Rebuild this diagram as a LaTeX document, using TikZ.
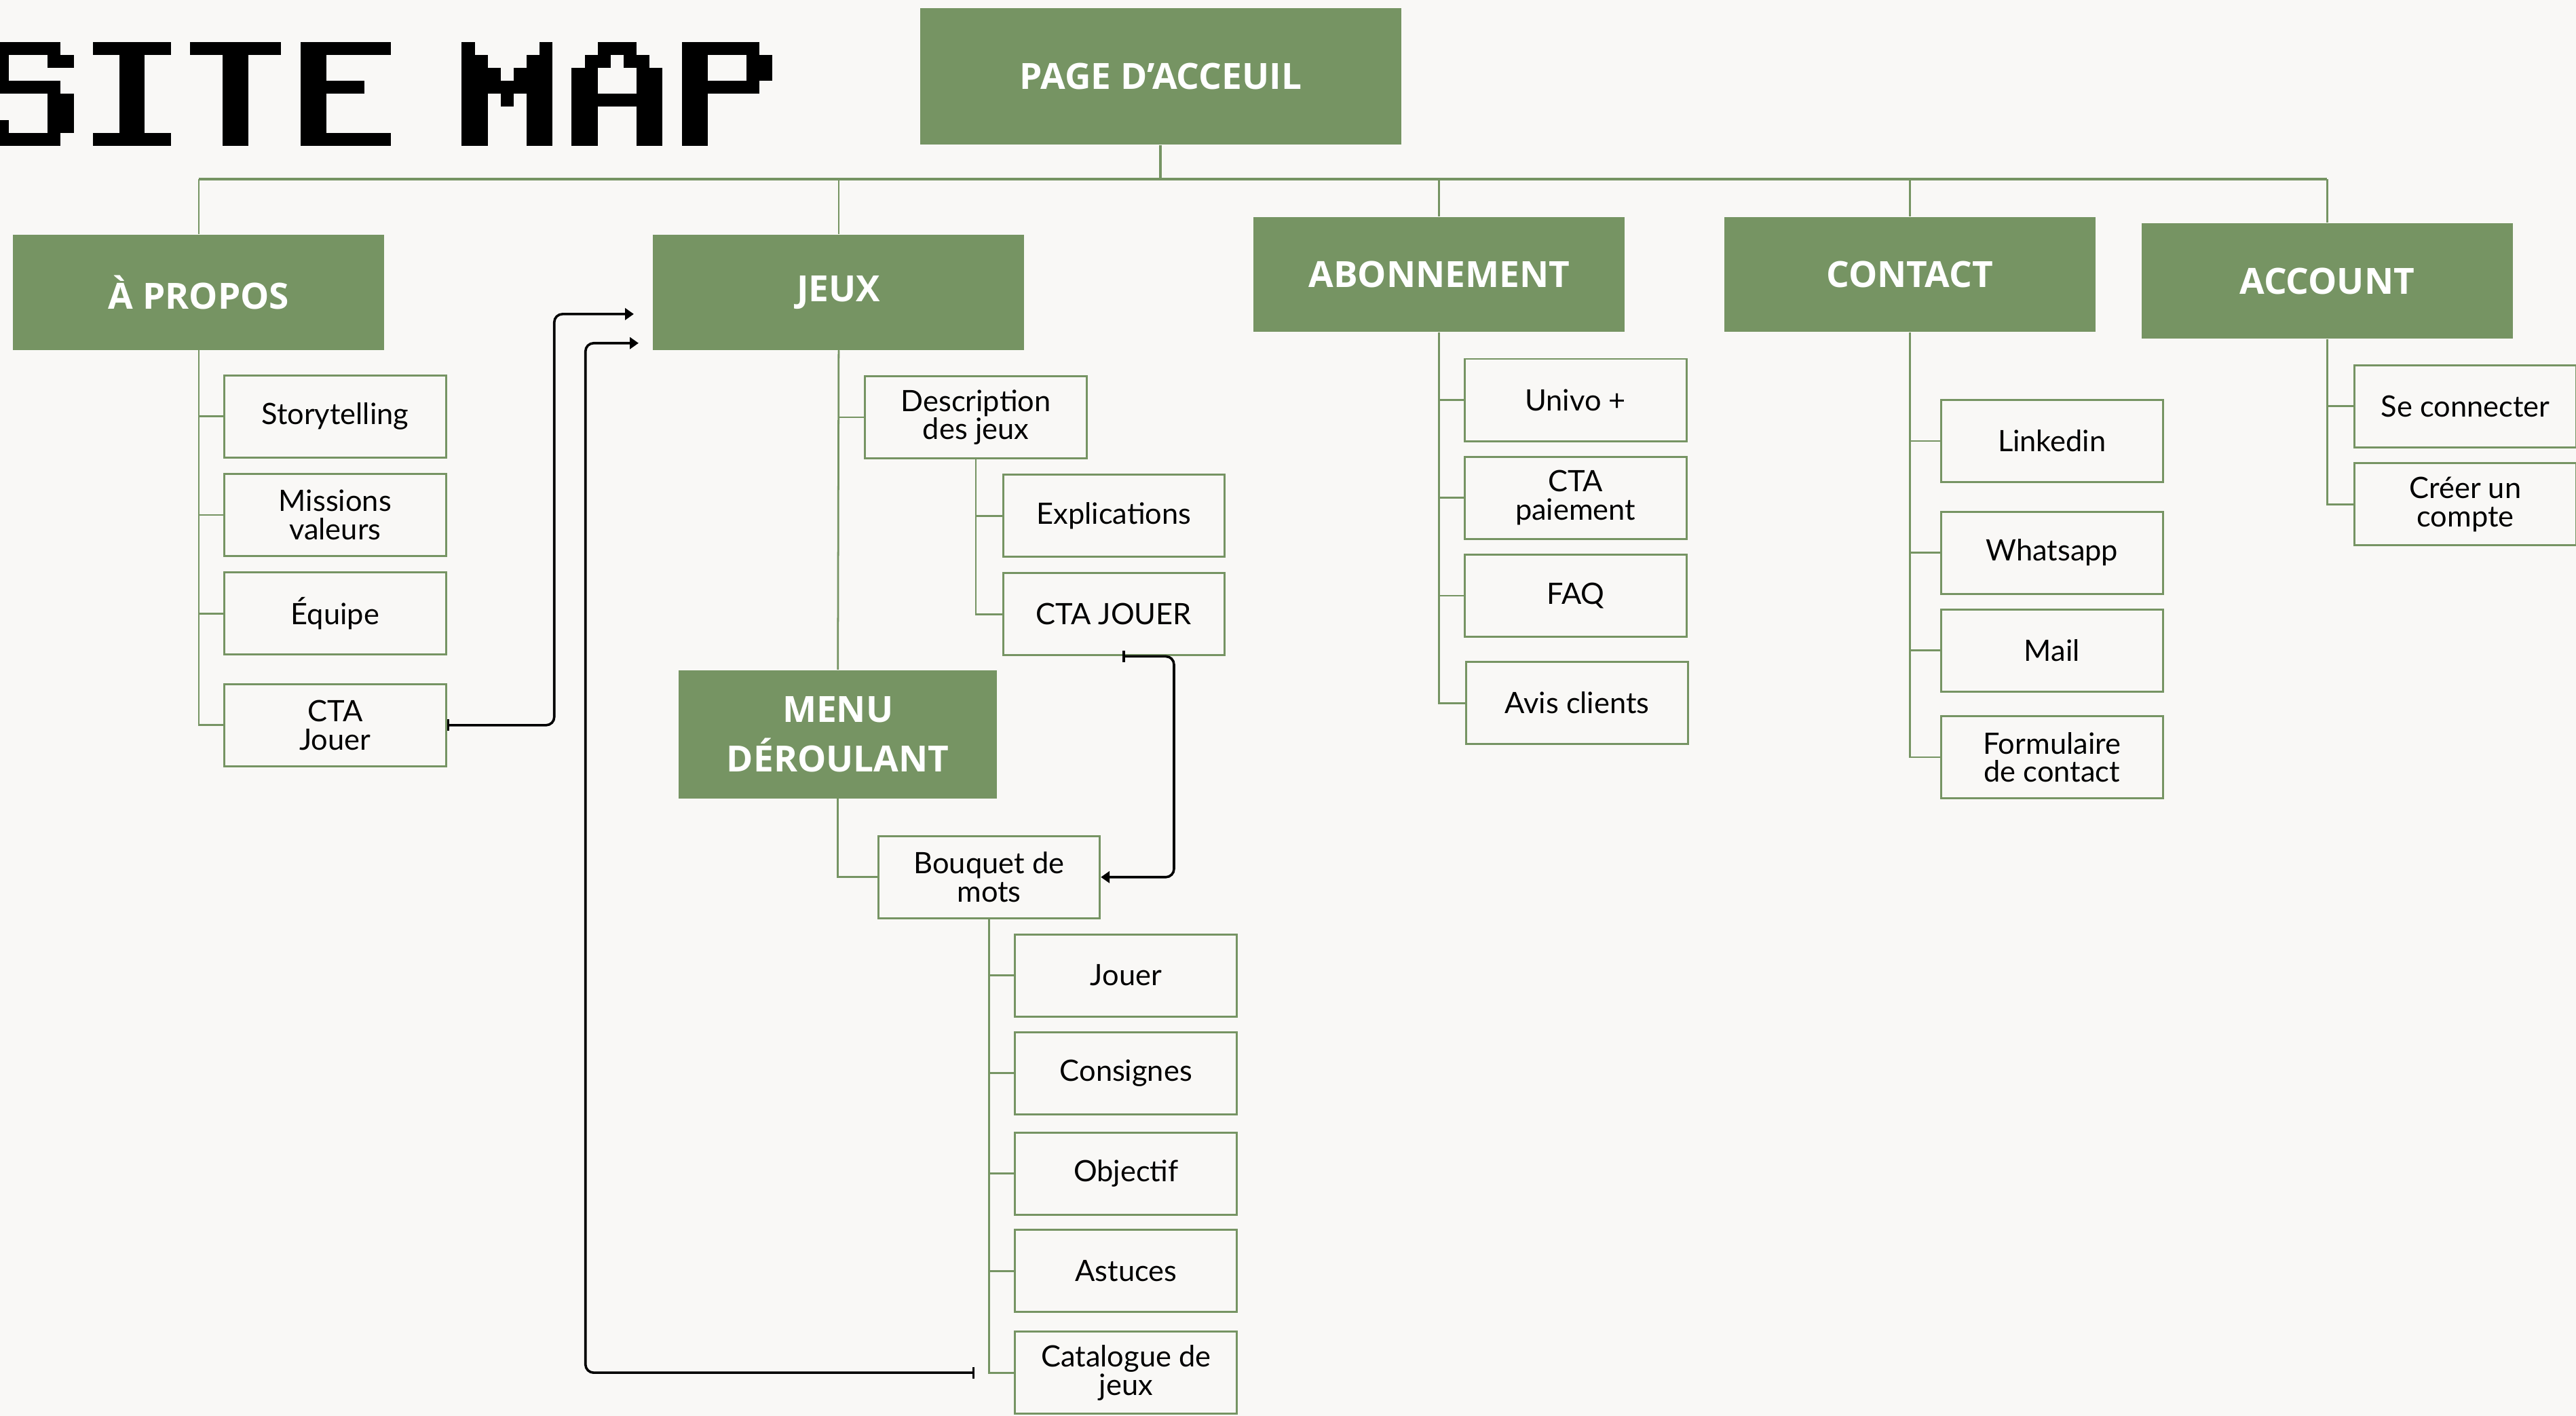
\documentclass[tikz,border=0pt]{standalone}
\usepackage{fontspec}
\setmainfont{Lato}
\newfontfamily\headfont{Open Sans}
\usetikzlibrary{arrows.meta,calc}
\definecolor{sage}{HTML}{769463}
\definecolor{bgc}{HTML}{F9F8F6}
\begin{document}
\begin{tikzpicture}[x=0.02cm, y=-0.02cm,
  hdr/.style={fill=sage, text=white, font=\headfont\bfseries\fontsize{12.5}{17}\selectfont, inner sep=0, align=center, minimum width=4.52cm, minimum height=1.4cm},
  cbox/.style={draw=sage, line width=0.7pt, fill=bgc, minimum width=2.70cm, minimum height=1.0cm, inner sep=0, align=center, font=\fontsize{10.2}{9.8}\selectfont},
  tree/.style={draw=sage, line width=0.65pt},
  link/.style={draw=black, line width=0.85pt, rounded corners=0.1cm, {Bar[width=4pt]}-{Triangle[length=3pt,width=4pt]}}]
\fill[bgc] (0,0) rectangle (1568,862);
\useasboundingbox (0,0) rectangle (1568,862);

% title in pixel letters
\begin{scope}[shift={(0,25.5)}, x=0.006323cm, y=-0.1582cm]
 % S
 \fill (-33,0) rectangle (117,1);
 \fill (-33,1) rectangle (17,3);
 \fill (92,1) rectangle (142,2);
 \fill (-33,3) rectangle (117,4);
 \fill (92,4) rectangle (142,7);
 \fill (-33,6) rectangle (17,7);
 \fill (-33,7) rectangle (117,8);
 % I
 \fill (179,0) rectangle (329,1);
 \fill (230,1) rectangle (279,7);
 \fill (179,7) rectangle (329,8);
 % T
 \fill (366,0) rectangle (541,1);
 \fill (429,1) rectangle (479,8);
 % E
 \fill (579,0) rectangle (753,1);
 \fill (579,1) rectangle (629,7);
 \fill (629,3) rectangle (703,4);
 \fill (579,7) rectangle (753,8);
 % M
 \fill (890,0) rectangle (915,1);
 \fill (1040,0) rectangle (1065,1);
 \fill (890,1) rectangle (940,8);
 \fill (1015,1) rectangle (1065,8);
 \fill (940,2) rectangle (965,4);
 \fill (990,2) rectangle (1015,4);
 \fill (965,3) rectangle (990,5);
 % A
 \fill (1152,0) rectangle (1227,1);
 \fill (1127,1) rectangle (1177,2);
 \fill (1202,1) rectangle (1252,2);
 \fill (1102,2) rectangle (1152,8);
 \fill (1227,2) rectangle (1277,8);
 \fill (1152,4) rectangle (1227,5);
 % P
 \fill (1314,0) rectangle (1464,1);
 \fill (1314,1) rectangle (1364,8);
 \fill (1439,1) rectangle (1489,3);
 \fill (1364,3) rectangle (1464,4);
\end{scope}

% headers
\node[hdr, minimum width=5.86cm, minimum height=1.66cm] (page) at (706.5,46.5) {PAGE D’ACCEUIL};
\node[hdr] (apropos) at (121,178) {À PROPOS};
\node[hdr] (jeux) at (510.5,178) {JEUX};
\node[hdr] (abo) at (876,167) {ABONNEMENT};
\node[hdr] (contact) at (1162.5,167) {CONTACT};
\node[hdr] (account) at (1416.5,171) {ACCOUNT};
\node[hdr, minimum width=3.88cm, minimum height=1.56cm] (menu) at (510,447) {MENU\\DÉROULANT};

% children
\node[cbox] (story) at (204,253.5) {Storytelling};
\node[cbox] (missions) at (204,313.5) {Missions\\valeurs};
\node[cbox] (equipe) at (204,373.5) {Équipe};
\node[cbox] (ctaj) at (204,441.5) {CTA\\Jouer};

\node[cbox] (desc) at (594,254) {Description\\des jeux};
\node[cbox] (expl) at (678,314) {Explications};
\node[cbox] (ctajeux) at (678,374) {CTA JOUER};
\node[cbox] (bouquet) at (602,534) {Bouquet de\\mots};
\node[cbox] (jouer) at (685.4,593.8) {Jouer};
\node[cbox] (consignes) at (685.4,653.4) {Consignes};
\node[cbox] (objectif) at (685.4,714.5) {Objectif};
\node[cbox] (astuces) at (685.4,773.8) {Astuces};
\node[cbox] (catalogue) at (685.4,835.7) {Catalogue de\\jeux};

\node[cbox] (univo) at (959,243.5) {Univo +};
\node[cbox] (ctap) at (959,303) {CTA\\paiement};
\node[cbox] (faq) at (959,362.7) {FAQ};
\node[cbox] (avis) at (960,428) {Avis clients};

\node[cbox] (linkedin) at (1249,268.5) {Linkedin};
\node[cbox] (whatsapp) at (1249,336.5) {Whatsapp};
\node[cbox] (mail) at (1249,396) {Mail};
\node[cbox] (form) at (1249,461) {Formulaire\\de contact};

\node[cbox] (seco) at (1500.6,247.3) {Se connecter};
\node[cbox] (creer) at (1500.6,307) {Créer un\\compte};

% bus
\coordinate (bus) at (0,109);
\draw[tree, line width=0.9pt] (page.south) -- (page.south |- bus);
\draw[tree, line width=0.9pt] (apropos.north |- bus) -- (account.north |- bus);
\foreach \n in {apropos,jeux,abo,contact,account}
  \draw[tree] (\n.north |- bus) -- (\n.north);

% trees
\foreach \c in {story,missions,equipe,ctaj}
  \draw[tree] (apropos.south) |- (\c.west);
\draw[tree] (jeux.south) -- (menu.north);
\draw[tree] (jeux.south) |- (desc.west);
\draw[tree] (menu.south) |- (bouquet.west);
\foreach \c in {expl,ctajeux}
  \draw[tree] (desc.south) |- (\c.west);
\foreach \c in {jouer,consignes,objectif,astuces,catalogue}
  \draw[tree] (bouquet.south) |- (\c.west);
\foreach \c in {univo,ctap,faq,avis}
  \draw[tree] (abo.south) |- (\c.west);
\foreach \c in {linkedin,whatsapp,mail,form}
  \draw[tree] (contact.south) |- (\c.west);
\foreach \c in {seco,creer}
  \draw[tree] (account.south) |- (\c.west);

% links
\draw[link] (ctaj.east) -| ($(jeux.west)+(-59.8,13.2)$) -- ($(jeux.west)+(-11.4,13.2)$);
\draw[link] ($(catalogue.west)+(-24,0)$) -| ($(jeux.west)+(-40.8,30.9)$) -- ($(jeux.west)+(-8.5,30.9)$);
\draw[link] ($(ctajeux.south)+(5.4,0)$) -- ($(ctajeux.south)+(36.6,0)$) |- (bouquet.east);
\end{tikzpicture}
\end{document}
